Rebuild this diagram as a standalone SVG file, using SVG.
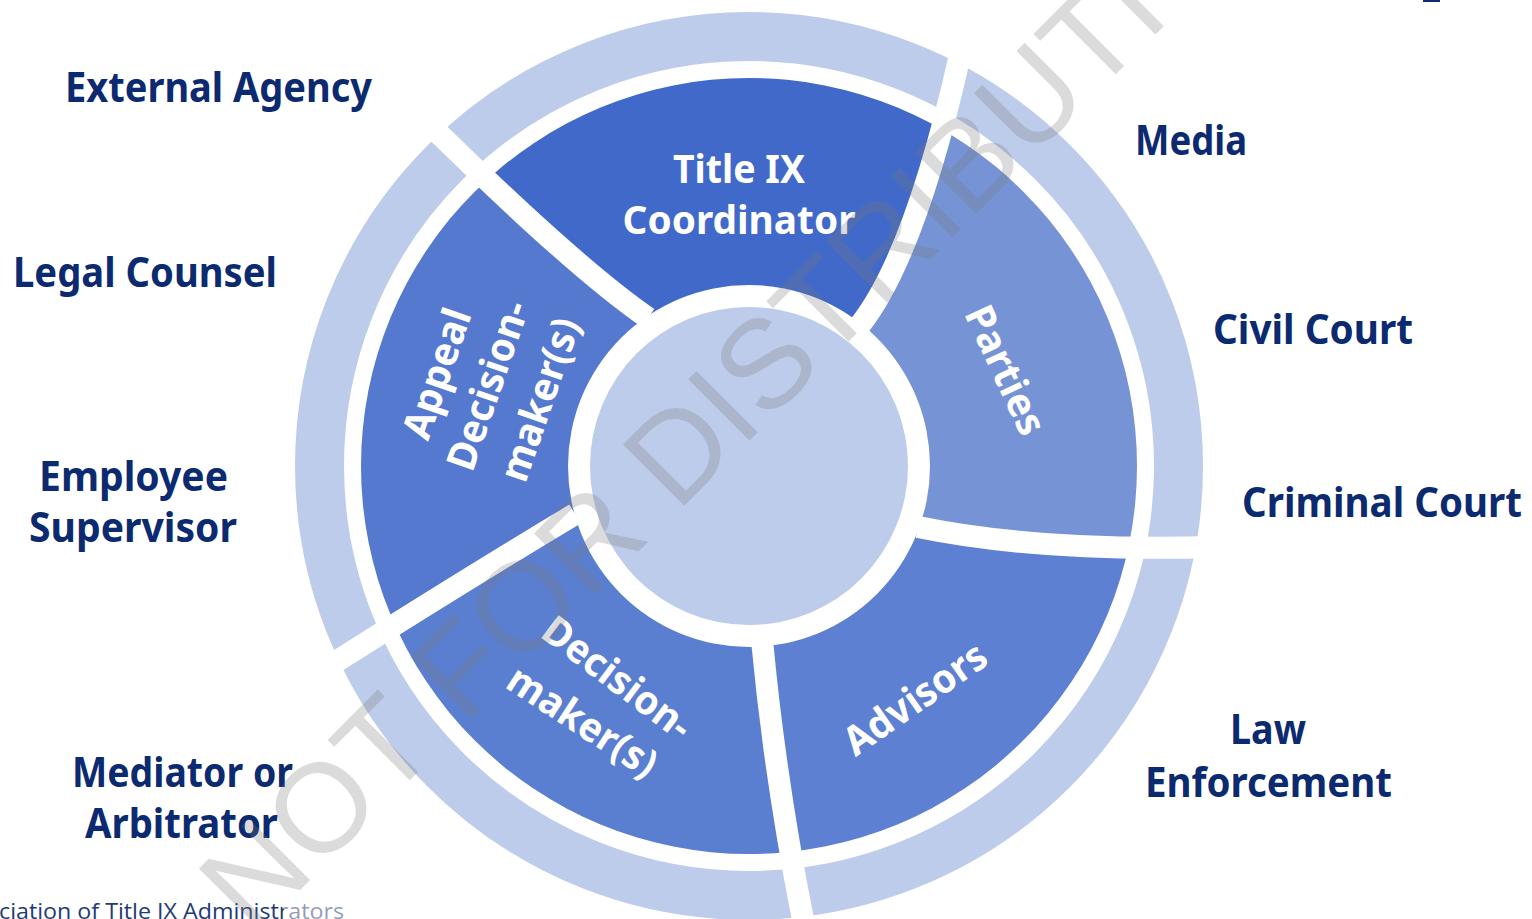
<svg xmlns="http://www.w3.org/2000/svg" width="1532" height="919" viewBox="0 0 1532 919">
<style>
.lbl{font-family:"Noto Sans","Liberation Sans",sans-serif;font-weight:700;font-size:41px;fill:#0b2a6f}
.seg{font-family:"Noto Sans","Liberation Sans",sans-serif;font-weight:700;font-size:40px;fill:#ffffff}
.div{stroke:#ffffff;stroke-width:22;fill:none;stroke-linecap:butt}
.light{fill:#bdcceb}
.wm{font-family:"Liberation Sans",Arial,sans-serif;font-size:126px;fill:#7a7a7a;fill-opacity:0.27}
.foot{font-family:"Open Sans","Liberation Sans",sans-serif;font-size:21px;fill:#1f3b73}
</style>
<defs>
<clipPath id="darkClip"><circle cx="749" cy="466" r="388"/></clipPath>
</defs>
<rect width="1532" height="919" fill="#ffffff"/>

<g id="outer-ring">
<circle cx="749" cy="466" r="429.5" fill="none" stroke="#bdcceb" stroke-width="49"/>
</g>

<g id="segments" clip-path="url(#darkClip)">
<path id="seg-titleix" fill="#4169c9" d="M749 466 L648 318 Q574 267 424 119 L645 -277 L960 55 Q915 255 860 325 Z"/>
<path id="seg-parties" fill="#7593d5" d="M749 466 L860 325 Q915 255 960 55 L1420 131 L1215 547 Q1040 552 918 527 Z"/>
<path id="seg-advisors" fill="#5d80d2" d="M749 466 L918 527 Q1040 552 1215 547 L1265 1010 L805 930 Q775 780 762 640 Z"/>
<path id="seg-decision" fill="#5a7ed0" d="M749 466 L762 640 Q775 780 805 930 L387 1122 L334 663 Q465 580 575 514 Z"/>
<path id="seg-appeal" fill="#5579cf" d="M749 466 L575 514 Q465 580 334 663 L12 326 L424 119 Q574 267 648 318 Z"/>
</g>

<g id="dividers">
<path class="div" d="M648 318 Q574 267 424 119"/>
<path class="div" d="M860 325 Q915 255 960 55"/>
<path class="div" d="M918 527 Q1040 552 1215 547"/>
<path class="div" d="M762 640 Q775 780 805 930"/>
<path class="div" d="M575 514 Q465 580 334 663"/>
</g>

<g id="hub">
<circle cx="749" cy="466" r="181" fill="#ffffff"/>
<circle cx="749" cy="466" r="159" class="light"/>
</g>

<g id="node-titleix">
<text class="seg" x="739" y="183" text-anchor="middle" font-size="42" textLength="132" lengthAdjust="spacingAndGlyphs">Title IX</text>
<text class="seg" x="739" y="234" text-anchor="middle" font-size="42" textLength="233" lengthAdjust="spacingAndGlyphs">Coordinator</text>
</g>
<g id="node-parties">
<text class="seg" transform="translate(993,376) rotate(65)" text-anchor="middle" textLength="138" lengthAdjust="spacingAndGlyphs">Parties</text>
</g>
<g id="node-advisors">
<text class="seg" transform="translate(923,710) rotate(-35)" text-anchor="middle" textLength="165" lengthAdjust="spacingAndGlyphs">Advisors</text>
</g>
<g id="node-decision">
<text class="seg" transform="translate(609,689) rotate(37)" text-anchor="middle" textLength="176" lengthAdjust="spacingAndGlyphs">Decision-</text>
<text class="seg" transform="translate(575,733) rotate(33)" text-anchor="middle" textLength="170" lengthAdjust="spacingAndGlyphs">maker(s)</text>
</g>
<g id="node-appeal">
<text class="seg" transform="translate(450,378) rotate(-71)" text-anchor="middle" textLength="135" lengthAdjust="spacingAndGlyphs">Appeal</text>
<text class="seg" transform="translate(501,390) rotate(-71)" text-anchor="middle" textLength="176" lengthAdjust="spacingAndGlyphs">Decision-</text>
<text class="seg" transform="translate(553,404) rotate(-71)" text-anchor="middle" textLength="170" lengthAdjust="spacingAndGlyphs">maker(s)</text>
</g>

<g id="label-external-agency"><text class="lbl" x="65" y="102" textLength="307" lengthAdjust="spacingAndGlyphs">External Agency</text></g>
<g id="label-legal-counsel"><text class="lbl" x="13" y="287" textLength="264" lengthAdjust="spacingAndGlyphs">Legal Counsel</text></g>
<g id="label-employee-supervisor">
<text class="lbl" x="133.5" y="491" text-anchor="middle" textLength="189" lengthAdjust="spacingAndGlyphs">Employee</text>
<text class="lbl" x="133" y="542" text-anchor="middle" textLength="208" lengthAdjust="spacingAndGlyphs">Supervisor</text>
</g>
<g id="label-mediator">
<text class="lbl" x="182.5" y="787" text-anchor="middle" textLength="221" lengthAdjust="spacingAndGlyphs">Mediator or</text>
<text class="lbl" x="181.5" y="838" text-anchor="middle" textLength="193" lengthAdjust="spacingAndGlyphs">Arbitrator</text>
</g>
<g id="label-media"><text class="lbl" x="1135" y="155" textLength="112" lengthAdjust="spacingAndGlyphs">Media</text></g>
<g id="label-civil-court"><text class="lbl" x="1213" y="344" textLength="200" lengthAdjust="spacingAndGlyphs">Civil Court</text></g>
<g id="label-criminal-court"><text class="lbl" x="1242" y="517" textLength="280" lengthAdjust="spacingAndGlyphs">Criminal Court</text></g>
<g id="label-law-enforcement">
<text class="lbl" x="1268" y="744" text-anchor="middle" textLength="76" lengthAdjust="spacingAndGlyphs">Law</text>
<text class="lbl" x="1268.5" y="797" text-anchor="middle" textLength="247" lengthAdjust="spacingAndGlyphs">Enforcement</text>
</g>

<g id="footer">
<text class="foot" x="-1" y="919" textLength="345" lengthAdjust="spacingAndGlyphs">ciation of Title IX Administrators</text>
<rect x="284" y="893" width="64" height="26" fill="#ffffff" fill-opacity="0.5"/>
<rect x="1423" y="0" width="17" height="2" fill="#0b2a6f"/>
</g>

<g id="watermark">
<text class="wm" transform="translate(253,937) rotate(-45)">NOT FOR DISTRIBUTION</text>
</g>
</svg>
